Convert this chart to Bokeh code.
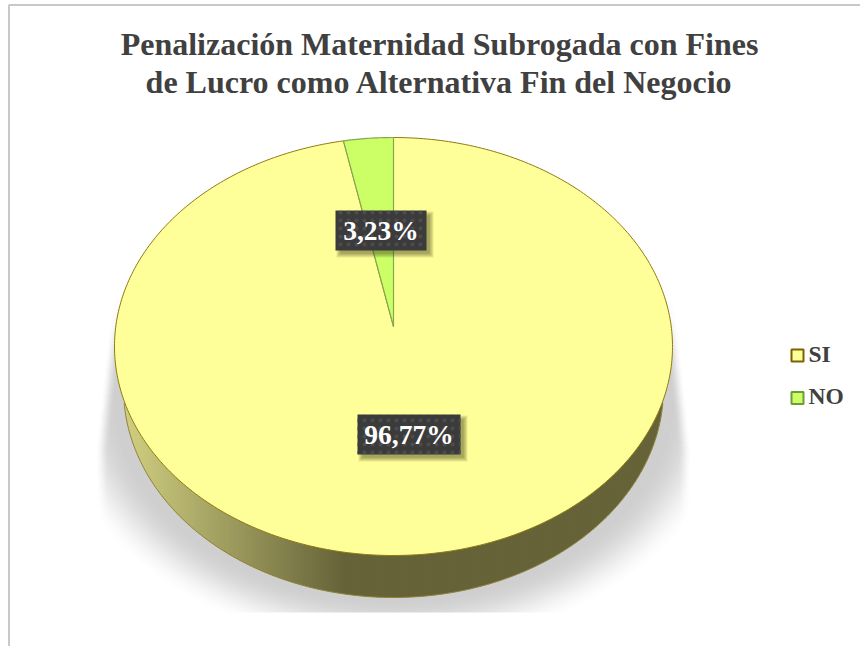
import numpy as np
from bokeh.plotting import figure
from bokeh.embed import file_html
from bokeh.resources import INLINE
from bokeh.core.properties import value

title_lines = ["Penalización Maternidad Subrogada con Fines", "de Lucro como Alternativa Fin del Negocio"]
categories = ["SI", "NO"]
percentages = [96.77, 3.23]
label_texts = ["96,77%", "3,23%"]

W, H = 860, 646
CX, CY, RX, RY = 393.0, 346.0, 279.0, 209.0
APEX_Y = 326.0
BOT_CY, BOT_RX = 388.0, 270.0
PERSP = 0.89
FONT = value("Liberation Serif")
TXT = "#404040"

p = figure(width=W, height=H, x_range=(0, W), y_range=(H, 0), output_backend="svg",
           toolbar_location=None, min_border=0, outline_line_color=None,
           background_fill_color="white", border_fill_color="white",
           styles={"position": "absolute", "left": "0px", "top": "0px"})
p.axis.visible = False
p.grid.visible = False

# chart frame
p.line([8.5, 8.5, W], [H, 4.5, 4.5], line_color="#c9c9c9", line_width=2)


def smooth(a):
    a = np.clip(a, 0, 1)
    return a * a * (3 - 2 * a)


def shadow_alpha(xx, yy):
    d = np.sqrt(((xx - CX) / 345.0) ** 2 + ((yy - 395.0) / 255.0) ** 2)
    a = smooth((1.0 - d) / 0.2)
    xl = 108 - 14 * np.clip((yy - 320) / 130, 0, 1)
    xr = 678 + 14 * np.clip((yy - 320) / 130, 0, 1)
    a = a * smooth((xx - xl) / 14) * smooth((xr - xx) / 14)
    a = a * smooth((yy - 290) / 70)
    return a


# soft shadow under the pie, built from stacked contour layers
LEVELS = 24
angles = np.linspace(0, 2 * np.pi, 720, endpoint=False)
radii = np.arange(0, 420, 0.5)
ray_x = CX + np.outer(np.cos(angles), radii)
ray_y = 470.0 + np.outer(np.sin(angles), radii)
field = shadow_alpha(ray_x, ray_y)
for k in range(1, LEVELS + 1):
    lvl = (k - 0.5) / LEVELS
    mask = field >= lvl
    last = radii.size - 1 - np.argmax(mask[:, ::-1], axis=1)
    rr = np.where(mask.any(axis=1), radii[last], 0.0)
    sx = CX + rr * np.cos(angles)
    sy = 470.0 + rr * np.sin(angles)
    # hard lower cut of the shadow
    over = sy > 612.0
    sx = np.where(over, CX + (sx - CX) * (142.0 / np.maximum(sy - 470.0, 1e-6)), sx)
    sy = np.where(over, 612.0, sy)
    p.patch(sx, sy, fill_color="#000000", fill_alpha=0.0088, line_color=None)

# pie side, shaded left to right
step = 1.5
xs_side, ys_side, cols = [], [], []


def lower(x, cy, rx):
    return cy + RY * np.sqrt(np.clip(1 - ((x - CX) / rx) ** 2, 0, 1))


x = CX - BOT_RX
while x < CX + BOT_RX:
    x1 = min(x + step + 0.5, CX + BOT_RX)
    xs_side.append([x, x1, x1, x])
    ys_side.append([lower(x, CY, RX) - 3, lower(x1, CY, RX) - 3, lower(x1, BOT_CY, BOT_RX), lower(x, BOT_CY, BOT_RX)])
    f = min(max((x - 123) / (342 - 123), 0), 1)
    c0, c1 = (208, 207, 128), (102, 99, 57)
    cols.append("#%02x%02x%02x" % tuple(int(round(a + (b - a) * f)) for a, b in zip(c0, c1)))
    x += step
p.patches(xs_side, ys_side, fill_color=cols, line_color=None)
tb = np.linspace(np.pi * 0.5 - 1.5, np.pi * 0.5 + 1.5, 200)
p.line(CX + BOT_RX * np.cos(tb), BOT_CY + RY * np.sin(tb), line_color="#8f8238", line_width=1)

# pie top
frac_no = percentages[1] / 100.0
theta = 2 * np.pi * frac_no
t0 = np.arcsin(PERSP * np.sin(theta))
t_si = np.linspace(0, 2 * np.pi - t0, 400)
si_x = np.r_[CX, CX + RX * np.sin(t_si)]
si_y = np.r_[APEX_Y, CY - RY * np.cos(t_si)]
t_no = np.linspace(-t0, 0, 20)
no_x = np.r_[CX, CX + RX * np.sin(t_no)]
no_y = np.r_[APEX_Y, CY - RY * np.cos(t_no)]
p.patch(si_x, si_y, fill_color="#ffff99", line_color="#8f7a10", line_width=1)
p.patch(no_x, no_y, fill_color="#ccff66", line_color="#85a850", line_width=1.2)

# data labels
boxes = [(357.0, 460.0, 414.0, 454.0), (335.0, 426.0, 210.0, 250.0)]
for (l, r, t, b), txt in zip(boxes, label_texts):
    for g in range(5):
        p.quad(left=[l + 1 + g], right=[r + 7 - g], top=[t + 1 + g], bottom=[b + 7 - g],
               fill_color="#4a4a20", fill_alpha=0.13, line_color=None)
    p.quad(left=[l], right=[r], top=[t], bottom=[b], fill_color="#3b3b3b", line_color=None,
           hatch_pattern="dot", hatch_color="#4c4c4c", hatch_scale=8, hatch_weight=1)
    p.text([(l + r) / 2], [(t + b) / 2], text=[txt], text_font=FONT, text_font_size="27.5px",
           text_font_style="bold", text_color="white", text_align="center", text_baseline="middle")

# title
for y, line in zip([43, 81], title_lines):
    p.text([439], [y], text=[line], text_font=FONT, text_font_size="32px", text_font_style="bold",
           text_color=TXT, text_align="center", text_baseline="middle")

# legend
for yc, name, fc, lc in zip([355, 397.5], categories, ["#ffff99", "#ccff66"], ["#7f6000", "#6f9a3a"]):
    p.quad(left=[791], right=[803], top=[yc - 6], bottom=[yc + 6], fill_color=fc, line_color=lc, line_width=2)
    p.text([808], [yc - 2], text=[name], text_font=FONT, text_font_size="23.5px", text_font_style="bold",
           text_color=TXT, text_align="left", text_baseline="middle")

open("out.html", "w").write(file_html(p, INLINE))
